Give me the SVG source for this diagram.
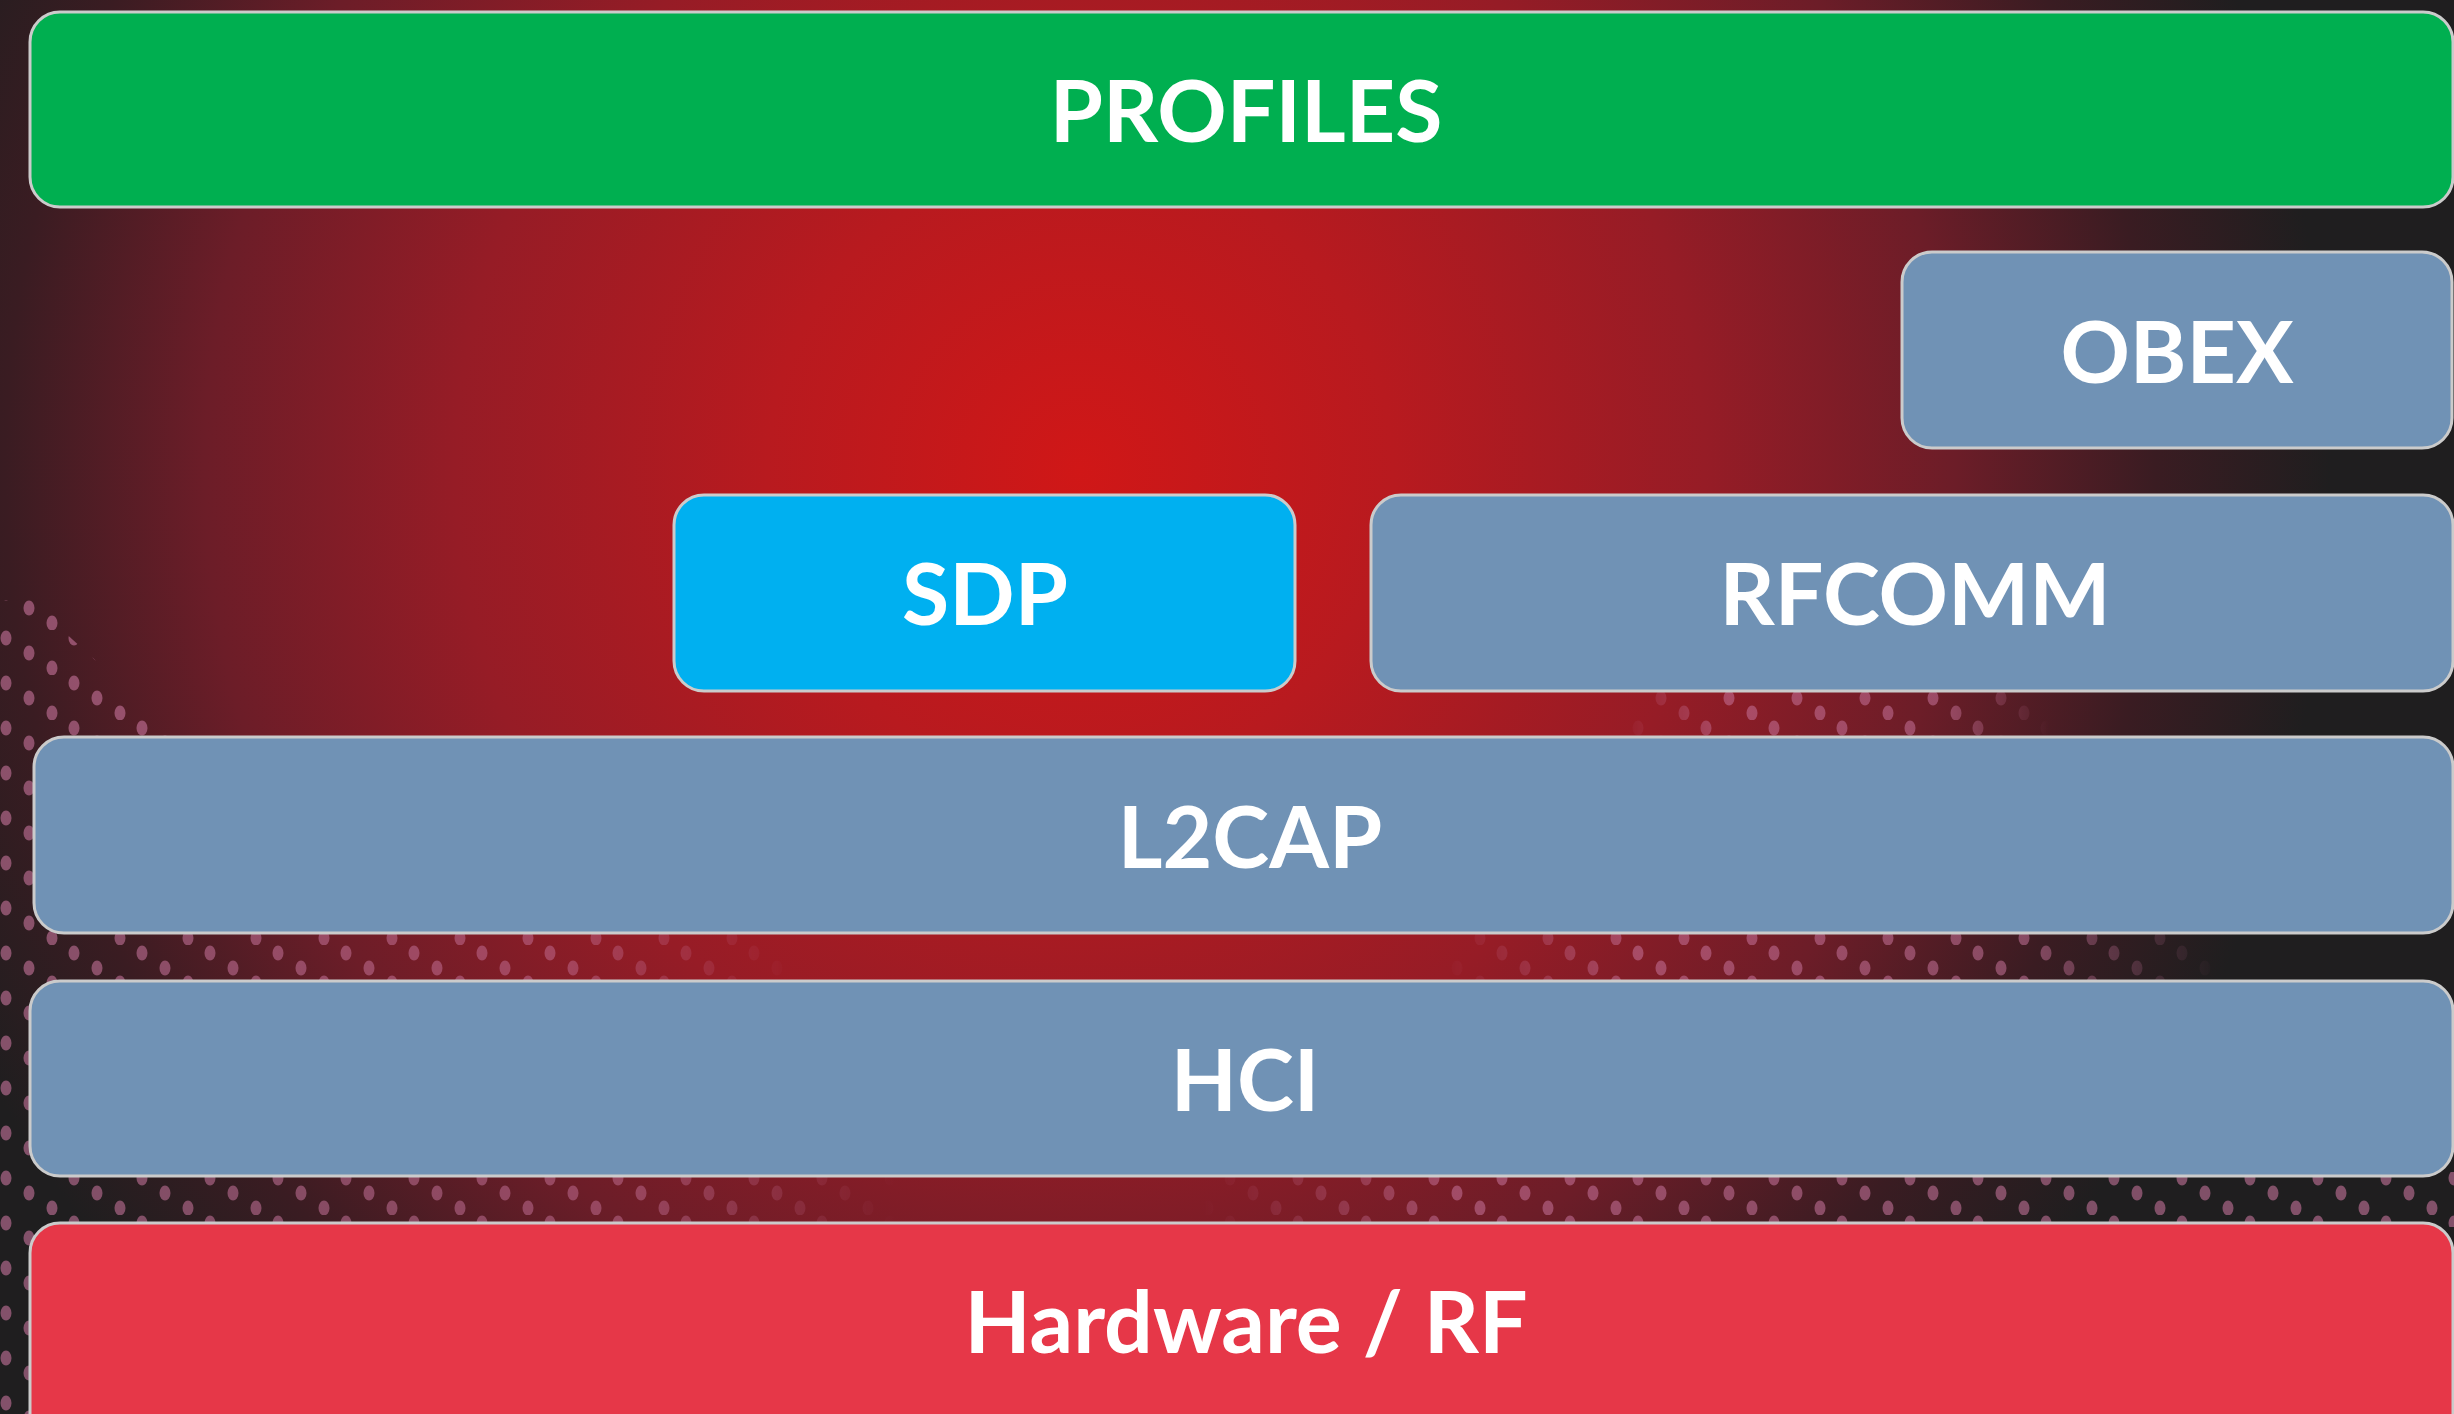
<svg xmlns="http://www.w3.org/2000/svg" width="2454" height="1414" viewBox="0 0 2454 1414">
  <defs>
    <radialGradient id="bg" cx="1080" cy="470" r="1250" gradientUnits="userSpaceOnUse">
      <stop offset="0" stop-color="#d01717"/>
      <stop offset="0.25" stop-color="#b81a1f"/>
      <stop offset="0.5" stop-color="#961c26"/>
      <stop offset="0.7" stop-color="#6c1d28"/>
      <stop offset="0.86" stop-color="#3a1c22"/>
      <stop offset="1" stop-color="#1f1e1f"/>
    </radialGradient>
    <pattern id="dots" width="68" height="45" patternUnits="userSpaceOnUse">
      <ellipse cx="6" cy="8" rx="5.5" ry="7.5" fill="#c6749c"/>
      <ellipse cx="29" cy="23" rx="5.5" ry="7.5" fill="#c6749c"/>
      <ellipse cx="52" cy="38" rx="5.5" ry="7.5" fill="#c6749c"/>
    </pattern>
    <linearGradient id="fadeL" x1="0" y1="0" x2="1" y2="0">
      <stop offset="0" stop-color="#fff" stop-opacity="1"/>
      <stop offset="0.7" stop-color="#fff" stop-opacity="0.8"/>
      <stop offset="1" stop-color="#fff" stop-opacity="0"/>
    </linearGradient>
    <linearGradient id="fadeC" x1="0" y1="0" x2="1" y2="0">
      <stop offset="0" stop-color="#fff" stop-opacity="0"/>
      <stop offset="0.25" stop-color="#fff" stop-opacity="0.9"/>
      <stop offset="0.75" stop-color="#fff" stop-opacity="0.9"/>
      <stop offset="1" stop-color="#fff" stop-opacity="0"/>
    </linearGradient>
    <linearGradient id="fadeR" x1="0" y1="0" x2="1" y2="0">
      <stop offset="0" stop-color="#fff" stop-opacity="0"/>
      <stop offset="0.2" stop-color="#fff" stop-opacity="0.9"/>
      <stop offset="1" stop-color="#fff" stop-opacity="1"/>
    </linearGradient>
    <mask id="dotMask">
      <rect x="0" y="600" width="60" height="814" fill="#fff"/>
      <polygon points="0,610 40,610 180,737 0,737" fill="#fff"/>
      <rect x="0" y="930" width="800" height="55" fill="url(#fadeL)"/>
      <rect x="1440" y="930" width="780" height="55" fill="url(#fadeC)"/>
      <rect x="0" y="1172" width="900" height="55" fill="url(#fadeL)"/>
      <rect x="1200" y="1172" width="1254" height="55" fill="url(#fadeR)"/>
      <rect x="1620" y="688" width="430" height="52" fill="url(#fadeC)"/>
    </mask>
    <style>
      .box { stroke: #cbcbcb; stroke-width: 3; }
      .green { fill: #00af50; }
      .blue { fill: #00b0f0; }
      .gray { fill: #7092b5; }
      .red { fill: #e63748; }
      .label { font-family: Lato, "Open Sans", "Liberation Sans", sans-serif; font-weight: 700; font-size: 86px; fill: #ffffff; text-anchor: middle; }
    </style>
  </defs>

  <rect x="0" y="0" width="2454" height="1414" fill="url(#bg)"/>
  <rect x="0" y="0" width="2454" height="1414" fill="url(#dots)" mask="url(#dotMask)" opacity="0.6"/>

  <g id="profiles">
    <rect class="box green" x="30" y="12" width="2423" height="195" rx="30"/>
    <text class="label" x="1246" y="142">PROFILES</text>
  </g>
  <g id="obex">
    <rect class="box gray" x="1902" y="252" width="550" height="196" rx="30"/>
    <text class="label" x="2177" y="383">OBEX</text>
  </g>
  <g id="sdp">
    <rect class="box blue" x="674" y="495" width="621" height="196" rx="30"/>
    <text class="label" x="985" y="625">SDP</text>
  </g>
  <g id="rfcomm">
    <rect class="box gray" x="1371" y="495" width="1082" height="196" rx="30"/>
    <text class="label" x="1915" y="625">RFCOMM</text>
  </g>
  <g id="l2cap">
    <rect class="box gray" x="34" y="737" width="2419" height="196" rx="30"/>
    <text class="label" x="1250" y="868">L2CAP</text>
  </g>
  <g id="hci">
    <rect class="box gray" x="30" y="981" width="2423" height="195" rx="30"/>
    <text class="label" x="1245" y="1111">HCI</text>
  </g>
  <g id="hardware">
    <rect class="box red" x="30" y="1223" width="2423" height="240" rx="30"/>
    <text class="label" x="1246" y="1353">Hardware / RF</text>
  </g>
  <g id="connectors"/>
</svg>
